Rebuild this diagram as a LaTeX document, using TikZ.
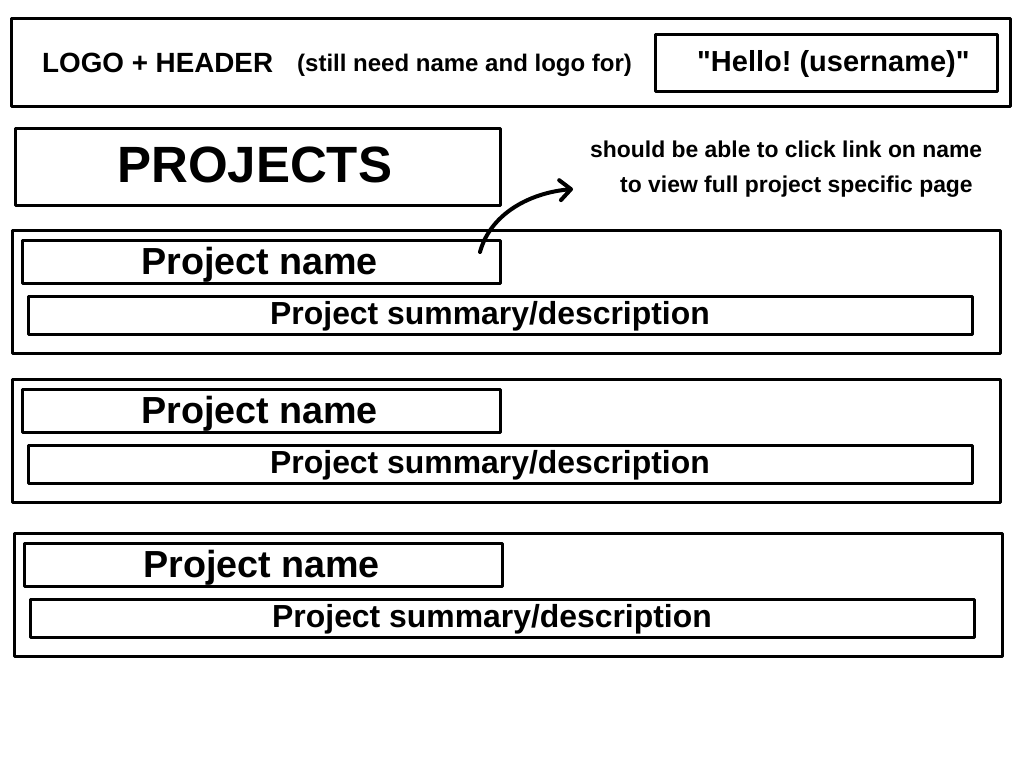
\documentclass[tikz,border=0pt]{standalone}
\usepackage{fontspec}
\setmainfont{Liberation Sans}[Ligatures=TeXOff]
\usetikzlibrary{arrows.meta}
\frenchspacing

\tikzset{
  frame/.style={line width=3pt, line join=round},
  txt/.style={inner sep=0pt, anchor=base west},
  fsize/.style={font=\fontsize{#1}{#1}\selectfont\bfseries}
}

\begin{document}
\begin{tikzpicture}[x=1pt,y=-1pt]
	\useasboundingbox (0,0) rectangle (1024,768);

	% header bar
	\draw[frame] (11,19) rectangle (1010,106);
	\node (logo) [txt, fsize=27.8] at (42,72) {LOGO + HEADER};
	\node (todo) [txt, fsize=24] at (297,71) {(still need name and logo for)};
	\draw[frame] (655,35) rectangle (997,91);
	\node (hello) [txt, fsize=29] at (697,71) {"Hello! (username)"};

	% title
	\draw[frame] (15,128) rectangle (500,205);
	\node (projects) [txt, fsize=51] at (117,182) {PROJECTS};

	% note
	\node (note1) [txt, fsize=22.9] at (590,157) {should be able to click link on name};
	\node (note2) [txt, fsize=22.9] at (620,192) {to view full project specific page};

	% project panels
	\foreach \t/\dx [count=\i] in {230/0, 379/0, 533/2} {
		\draw[frame] (12+\dx,\t) rectangle (1000+\dx,\t+123);
		\draw[frame] (22+\dx,\t+10) rectangle (500+\dx,\t+53);
		\draw[frame] (28+\dx,\t+66) rectangle (972+\dx,\t+104);
		\node (name\i) [txt, fsize=37.7] at (141+\dx,\t+44) {Project name};
		\node (summary\i) [txt, fsize=31.9] at (270+\dx,\t+94) {Project summary/description};
	}

	% link arrow
	\coordinate (tail) at (480,252);
	\coordinate (head) at (573,189);
	\draw[line width=4pt, line cap=round, line join=round, -{Straight Barb[length=11pt,width=20pt,round]}] (tail) .. controls (490,215) and (528,193) .. (head);
\end{tikzpicture}
\end{document}
